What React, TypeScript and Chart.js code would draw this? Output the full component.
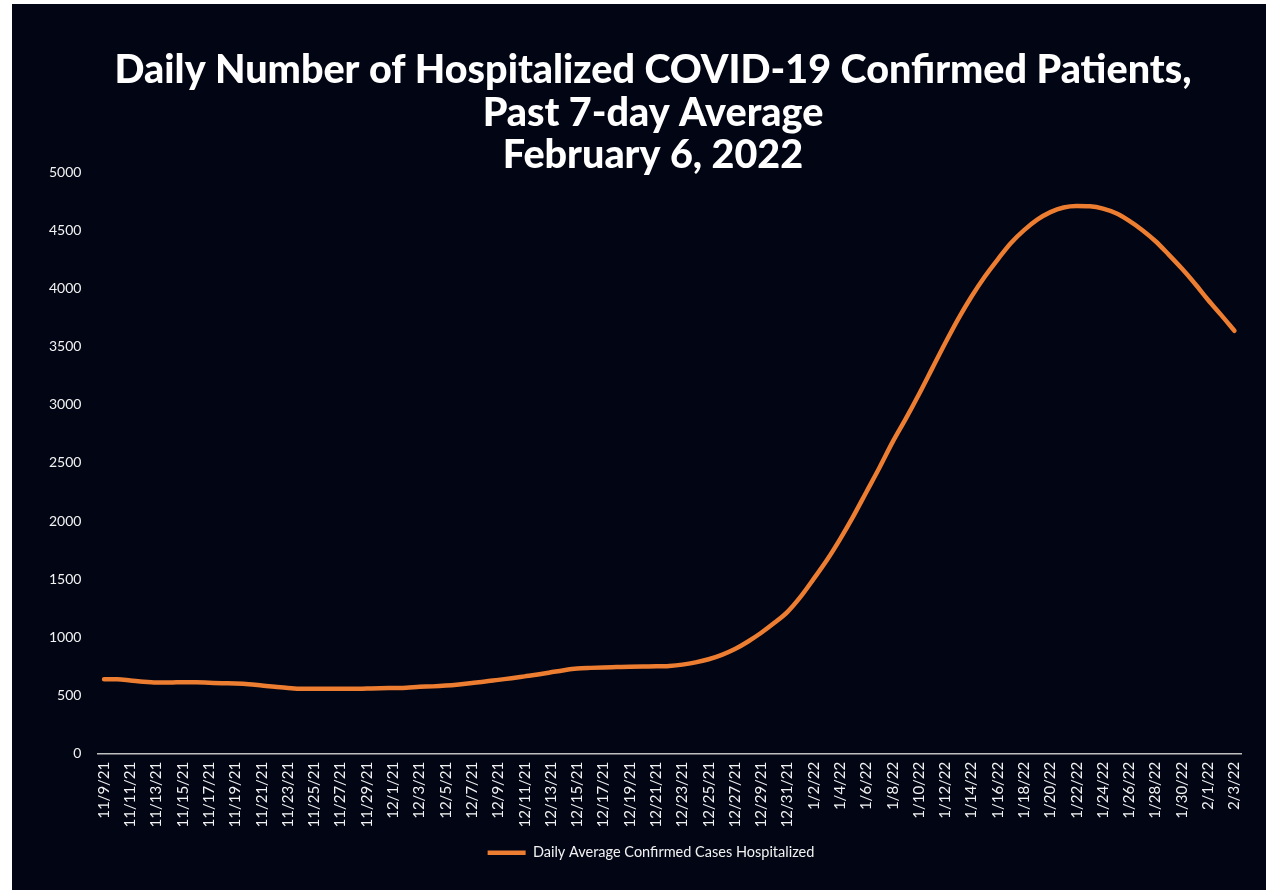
import React, { useEffect, useRef } from "react";
import { Chart, registerables } from "chart.js";

Chart.register(...registerables);

const dates: string[] = [
  "11/9/21","11/10/21","11/11/21","11/12/21","11/13/21","11/14/21","11/15/21","11/16/21","11/17/21","11/18/21",
  "11/19/21","11/20/21","11/21/21","11/22/21","11/23/21","11/24/21","11/25/21","11/26/21","11/27/21","11/28/21",
  "11/29/21","11/30/21","12/1/21","12/2/21","12/3/21","12/4/21","12/5/21","12/6/21","12/7/21","12/8/21",
  "12/9/21","12/10/21","12/11/21","12/12/21","12/13/21","12/14/21","12/15/21","12/16/21","12/17/21","12/18/21",
  "12/19/21","12/20/21","12/21/21","12/22/21","12/23/21","12/24/21","12/25/21","12/26/21","12/27/21","12/28/21",
  "12/29/21","12/30/21","12/31/21","1/1/22","1/2/22","1/3/22","1/4/22","1/5/22","1/6/22","1/7/22",
  "1/8/22","1/9/22","1/10/22","1/11/22","1/12/22","1/13/22","1/14/22","1/15/22","1/16/22","1/17/22",
  "1/18/22","1/19/22","1/20/22","1/21/22","1/22/22","1/23/22","1/24/22","1/25/22","1/26/22","1/27/22",
  "1/28/22","1/29/22","1/30/22","1/31/22","2/1/22","2/2/22","2/3/22",
];

const hospitalized: number[] = [
  640, 640, 630, 618, 612, 612, 615, 614, 610, 606,
  603, 597, 586, 575, 565, 558, 558, 558, 558, 558,
  560, 562, 565, 568, 575, 579, 586, 596, 608, 620,
  635, 649, 665, 681, 700, 718, 732, 738, 742, 745,
  748, 750, 751, 755, 766, 785, 812, 850, 900, 965,
  1040, 1125, 1220, 1350, 1505, 1665, 1845, 2040, 2250, 2460,
  2680, 2880, 3090, 3310, 3530, 3740, 3930, 4100, 4250, 4390,
  4500, 4590, 4655, 4695, 4708, 4705, 4685, 4645, 4580, 4500,
  4405, 4290, 4170, 4040, 3900, 3770, 3635,
];

const titleLines: string[] = [
  "Daily Number of Hospitalized COVID-19 Confirmed Patients,",
  "Past 7-day Average",
  "February 6, 2022",
];

const seriesLabel = "Daily Average Confirmed Cases Hospitalized";
const yTicks: number[] = [0, 500, 1000, 1500, 2000, 2500, 3000, 3500, 4000, 4500, 5000];

const BG = "#020514";
const ORANGE = "#ED7D31";
const TEXT = "#f2f2f2";
const TICK_FONT = "Lato, 'Open Sans', sans-serif";

const titlePlugin = {
  id: "customTitle",
  afterLayout(chart: any) {
    const lg = chart.legend;
    if (lg) {
      lg.left += 14;
      lg.right += 14;
    }
  },
  afterDraw(chart: any) {
    const ctx = chart.ctx;
    ctx.save();
    ctx.fillStyle = "#ffffff";
    ctx.font = "900 39.5px Lato, 'Open Sans', sans-serif";
    ctx.textAlign = "center";
    ctx.textBaseline = "alphabetic";
    const baselines = [79, 122, 164];
    titleLines.forEach((t, i) => ctx.fillText(t, 641, baselines[i]));
    ctx.restore();
  },
};

export default function App() {
  const ref = useRef<HTMLCanvasElement | null>(null);
  useEffect(() => {
    document.body.style.margin = "0";
    document.body.style.background = "#ffffff";
    const canvas = ref.current!;
    const chart = new Chart(canvas, {
      type: "line",
      data: {
        labels: dates,
        datasets: [
          {
            label: seriesLabel,
            data: hospitalized,
            borderColor: ORANGE,
            backgroundColor: ORANGE,
            borderWidth: 4.5,
            borderCapStyle: "round",
            borderJoinStyle: "round",
            pointRadius: 0,
            pointStyle: "line",
            cubicInterpolationMode: "monotone",
            fill: false,
          },
        ],
      },
      options: {
        animation: false,
        responsive: false,
        maintainAspectRatio: false,
        layout: { padding: { top: 168, left: 21, right: 25, bottom: 20 } },
        plugins: {
          title: { display: false },
          tooltip: { enabled: false },
          legend: {
            display: true,
            position: "bottom",
            labels: {
              color: TEXT,
              usePointStyle: true,
              pointStyleWidth: 38,
              font: { family: TICK_FONT, size: 14.5 },
              padding: 10,
            },
          },
        },
        scales: {
          x: {
            offset: true,
            grid: { display: false, drawTicks: false },
            border: { display: true, color: "#bfbfbf", width: 1.5 },
            ticks: {
              color: TEXT,
              font: { family: TICK_FONT, size: 15 },
              autoSkip: false,
              maxRotation: 90,
              minRotation: 90,
              padding: 8,
              callback: (_v: any, i: number) => (i % 2 === 0 ? dates[i] : ""),
            },
          },
          y: {
            min: 0,
            max: 5000,
            afterBuildTicks: (scale: any) => {
              scale.ticks = yTicks.map((v) => ({ value: v }));
            },
            grid: { display: false, drawTicks: false },
            border: { display: false },
            ticks: {
              color: TEXT,
              font: { family: TICK_FONT, size: 14 },
              padding: 16,
              callback: (v: any) => String(v),
            },
          },
        },
      },
      plugins: [titlePlugin],
    });
    return () => chart.destroy();
  }, []);

  return (
    <div
      style={{
        position: "absolute",
        left: 12,
        top: 4,
        width: 1254,
        height: 886,
        background: BG,
        overflow: "hidden",
      }}
    >
      <canvas ref={ref} width={1254} height={886} style={{ display: "block" }} />
    </div>
  );
}
